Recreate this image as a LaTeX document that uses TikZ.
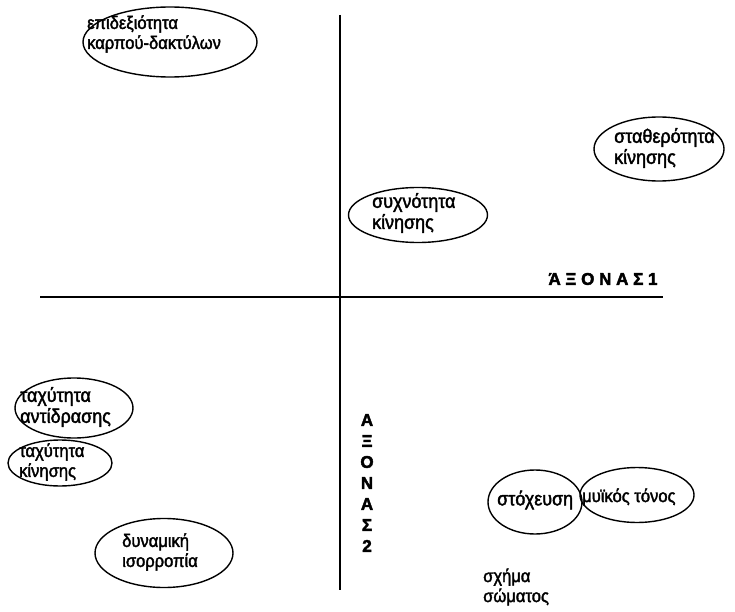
\documentclass[tikz,border=0pt]{standalone}
\usepackage{fontspec}
\setmainfont{Liberation Sans}[FakeBold=2,FakeStretch=0.92]
\newfontfamily\axisfont{Liberation Sans Bold}[FakeBold=2.5]
\usetikzlibrary{shapes.geometric}
\tikzset{
  oval/.style={draw, ellipse, line width=1.4pt, inner sep=0pt},
  lbl/.style={anchor=west, align=left, inner sep=0pt,
    font=\fontsize{18}{20}\selectfont},
  biglbl/.style={lbl, font=\fontsize{19.5}{21}\selectfont},
  axislbl/.style={align=center, inner sep=0pt,
    font=\axisfont\fontsize{17}{21}\selectfont},
  axis/.style={line width=1.2pt}
}

\begin{document}
\begin{tikzpicture}[x=1pt,y=-1pt]
\useasboundingbox (0,0) rectangle (735,612);
% axes
\coordinate (hl) at (40,297);
\coordinate (hr) at (663,297);
\coordinate (vt) at (340,15);
\coordinate (vb) at (340,590);
\draw [axis] (hl) -- (hr);
\draw [axis] (vt) -- (vb);
\node [axislbl] (ax1) at (603,279) {Ά Ξ Ο Ν Α Σ 1};
\node [axislbl] (ax2) at (367,483) {Α\\Ξ\\Ο\\Ν\\Α\\Σ\\2};
% upper half
\node [oval, minimum width=174, minimum height=70] (epid) at (170,42) {};
\node [lbl] (epidtxt) at (87,34) {επιδεξιότητα\\καρπού-δακτύλων};
\node [oval, minimum width=130, minimum height=64] (stath) at (659,149) {};
\node [biglbl] (stathtxt) at (614,148) {σταθερότητα\\κίνησης};
\node [oval, minimum width=139, minimum height=55] (sixn) at (418,215) {};
\node [biglbl] (sixntxt) at (372,213) {συχνότητα\\κίνησης};
% lower half
\node [oval, minimum width=118, minimum height=60] (antid) at (74,408) {};
\node [biglbl] (antidtxt) at (20,407) {ταχύτητα\\αντίδρασης};
\node [oval, minimum width=104, minimum height=46] (kin) at (60,463) {};
\node [lbl] (kintxt) at (19,462) {ταχύτητα\\κίνησης};
\node [oval, minimum width=138, minimum height=69] (dyn) at (164,553) {};
\node [lbl] (dyntxt) at (122,552) {δυναμική\\ισορροπία};
\node [oval, minimum width=94, minimum height=64] (stox) at (535,502) {};
\node [biglbl] (stoxtxt) at (497,500) {στόχευση};
\node [oval, minimum width=114, minimum height=55] (mui) at (637,495) {};
\node [lbl] (muitxt) at (582,497) {μυϊκός τόνος};
\node [lbl] (sxima) at (483,587) {σχήμα\\σώματος};
\end{tikzpicture}
\end{document}
